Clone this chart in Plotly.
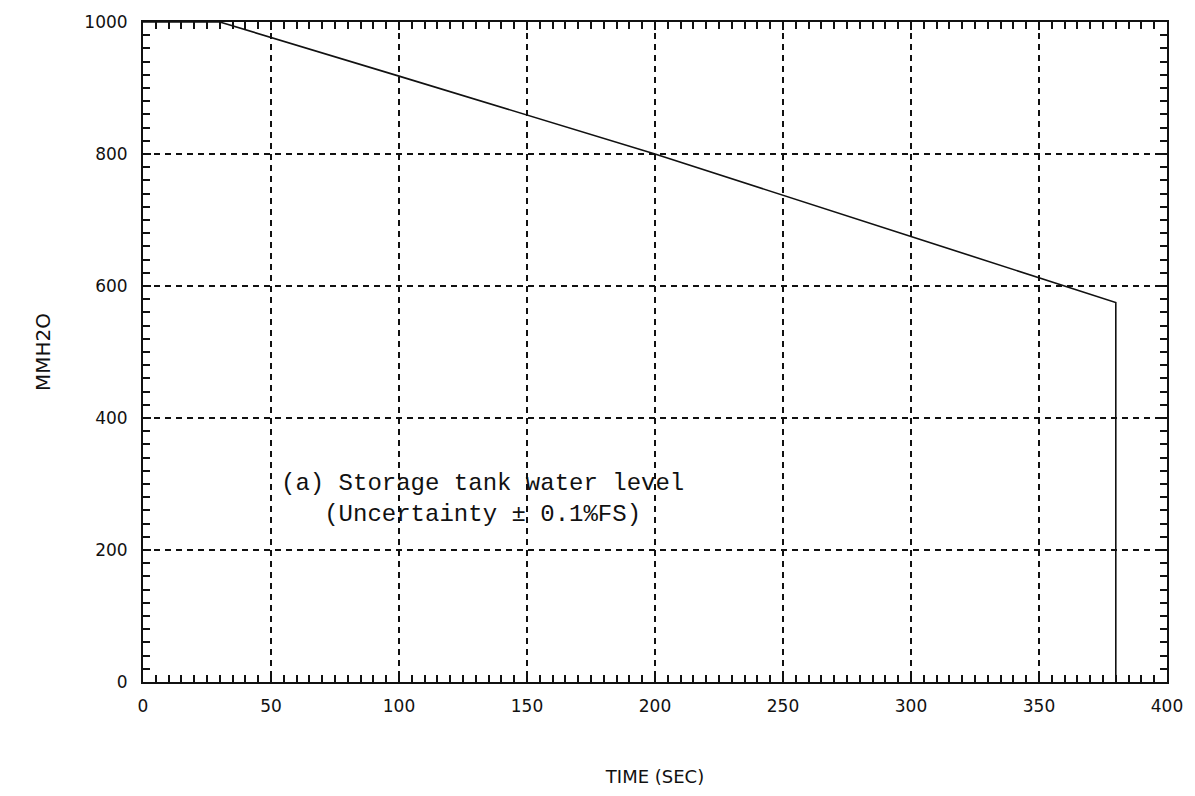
import plotly.graph_objects as go

# Data
time_s = [0, 30, 100, 200, 300, 350, 380, 380]
level_mmh2o = [1000, 1000, 918, 800, 675, 612, 575, 0]

x_ticks = [0, 50, 100, 150, 200, 250, 300, 350, 400]
y_ticks = [0, 200, 400, 600, 800, 1000]
note_lines = ["(a) Storage tank water level", "(Uncertainty \u00b1 0.1%FS)"]

tick_font = dict(family="DejaVu Sans", size=17, color="#111")

fig = go.Figure()
fig.add_trace(go.Scatter(x=time_s, y=level_mmh2o, mode="lines",
                         line=dict(color="#111", width=1.6), showlegend=False))

fig.add_annotation(x=0.332, y=0.278, xref="paper", yref="paper",
                   xanchor="center", yanchor="middle",
                   text="<br>".join(note_lines), showarrow=False,
                   align="center", font=dict(family="Liberation Mono", size=24, color="#111"))

common = dict(showline=True, linecolor="#111", linewidth=2, mirror="ticks",
              ticks="inside", ticklen=8, tickwidth=1.5, tickcolor="#111",
              showgrid=True, gridcolor="#111", gridwidth=1.5, griddash="6px,5px",
              zeroline=False, tickfont=tick_font)

fig.update_xaxes(range=[0, 400], tickvals=x_ticks, ticktext=[str(v) for v in x_ticks],
                 minor=dict(dtick=5, ticks="inside", ticklen=7, tickcolor="#111", showgrid=False),
                 title=dict(text="TIME (SEC)", font=dict(family="DejaVu Sans", size=18, color="#111"),
                            standoff=55),
                 ticklabelstandoff=8, **common)
fig.update_yaxes(range=[0, 1000], tickvals=y_ticks, ticktext=[str(v) for v in y_ticks],
                 minor=dict(dtick=20, ticks="inside", ticklen=7, tickcolor="#111", showgrid=False),
                 title=dict(text="MMH2O", font=dict(family="DejaVu Sans", size=20, color="#111"),
                            standoff=28),
                 ticklabelstandoff=10, **common)

fig.update_layout(width=1195, height=796, margin=dict(l=143, r=27, t=17, b=103),
                  plot_bgcolor="white", paper_bgcolor="white")

fig.write_html("out.html")
